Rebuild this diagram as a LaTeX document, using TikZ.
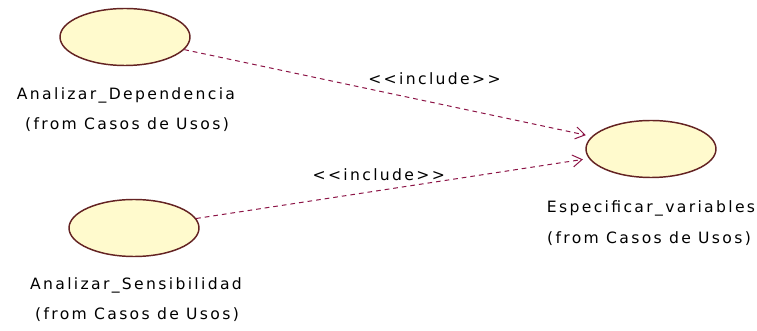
\documentclass[tikz,border=0pt]{standalone}
\usepackage{fontspec}
\newfontfamily\umlfont[LetterSpace=15]{DejaVu Sans}
\usepackage{xcolor}
\usepackage{tikz}
\usetikzlibrary{arrows.meta,shapes.geometric}
\definecolor{roseline}{RGB}{140,20,70}
\definecolor{roseedge}{RGB}{100,35,35}
\definecolor{rosefill}{RGB}{255,250,205}

\begin{document}
\begin{tikzpicture}[
  x=0.75pt, y=-0.75pt,
  every node/.style={font=\umlfont\fontsize{11.7}{13}\selectfont},
  usecase/.style={ellipse, draw=roseedge, fill=rosefill, line width=1.1pt,
                  minimum width=97.5pt, minimum height=42.75pt, inner sep=0pt},
  uctext/.style={inner sep=0pt, text=black},
  incl/.style={-{Straight Barb[length=7pt,width=9pt]}, roseline,
               line width=0.75pt, dash pattern=on 3.5pt off 3pt,
               shorten >=4.5pt},
  lbl/.style={inner sep=0pt, text=black}
]
\useasboundingbox (0,0) rectangle (757,331);

% casos de uso
\node[usecase] (dep) at (125,37)  {};
\node[usecase] (sen) at (134,228) {};
\node[usecase] (esp) at (651,149) {};

% nombres
\node[uctext] (depn) at (126,95)  {Analizar\_Dependencia};
\node[uctext] (depf) at (127,125) {(from Casos de Usos)};
\node[uctext] (senn) at (136,285) {Analizar\_Sensibilidad};
\node[uctext] (senf) at (137,315) {(from Casos de Usos)};
\node[uctext] (espn) at (651,208) {Especificar\_variables};
\node[uctext] (espf) at (649,239) {(from Casos de Usos)};

% relaciones
\draw[incl] (dep)--(esp) node[lbl,pos=0.614,yshift=18pt]{{<}{<}include{>}{>}};
\draw[incl] (sen)--(esp) node[lbl,pos=0.465,yshift=12pt]{{<}{<}include{>}{>}};
\end{tikzpicture}
\end{document}
